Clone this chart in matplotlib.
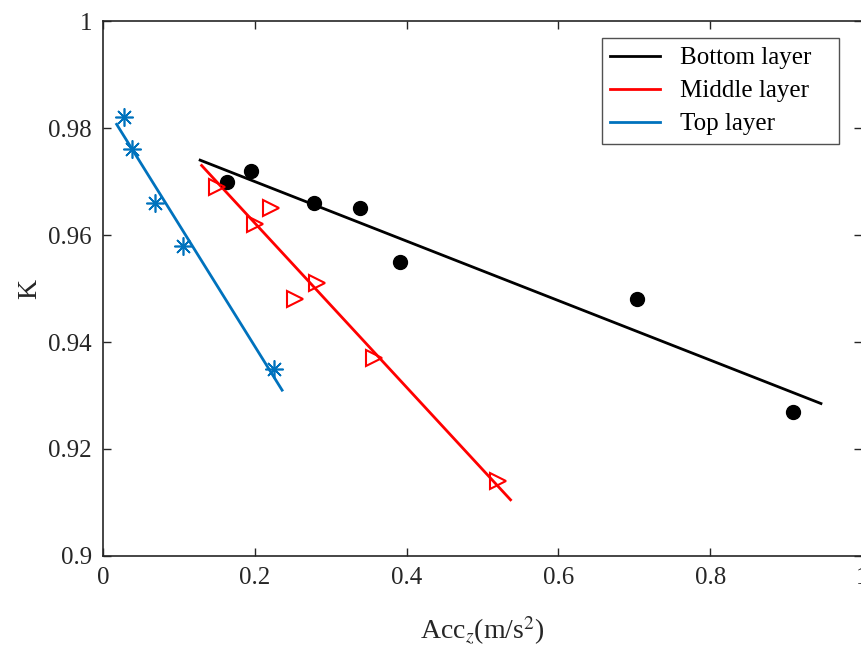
import matplotlib
matplotlib.use("Agg")
import matplotlib.pyplot as plt

plt.rcParams['font.family'] = ['Liberation Serif', 'DejaVu Serif']
plt.rcParams['mathtext.fontset'] = 'stix'

# Top layer (blue stars)
top_x = [0.028, 0.038, 0.068, 0.105, 0.225]
top_k = [0.982, 0.976, 0.966, 0.958, 0.935]
top_fit_x = [0.018, 0.236]
top_fit_k = [0.9807, 0.931]

# Middle layer (red triangles)
mid_x = [0.150, 0.200, 0.222, 0.253, 0.282, 0.357, 0.520]
mid_k = [0.969, 0.962, 0.965, 0.948, 0.951, 0.937, 0.914]
mid_fit_x = [0.130, 0.537]
mid_fit_k = [0.973, 0.9105]

# Bottom layer (black dots)
bot_x = [0.163, 0.195, 0.278, 0.339, 0.391, 0.703, 0.909]
bot_k = [0.970, 0.972, 0.966, 0.965, 0.955, 0.948, 0.927]
bot_fit_x = [0.128, 0.946]
bot_fit_k = [0.974, 0.9285]

blue = '#0072BD'
red = '#FF0000'
axcol = '#262626'

fig = plt.figure(figsize=(8.61, 6.48), dpi=100)
ax = fig.add_axes([0.1196, 0.142, 0.8815, 0.8255])

ax.plot(bot_fit_x, bot_fit_k, color='black', lw=2, label='Bottom layer   ')
ax.plot(mid_fit_x, mid_fit_k, color=red, lw=2, label='Middle layer   ')
ax.plot(top_fit_x, top_fit_k, color=blue, lw=2, label='Top layer   ')

ax.plot(bot_x, bot_k, 'o', color='black', ms=10, ls='none')
ax.plot(mid_x, mid_k, '>', mfc='none', mec=red, mew=1.5, ms=11, ls='none')
ax.plot(top_x, top_k, marker=(8, 2, 0), color=blue, mew=1.2, ms=13, ls='none')

ax.set_xlim(0, 1)
ax.set_ylim(0.9, 1)
ax.set_xticks([0, 0.2, 0.4, 0.6, 0.8, 1])
ax.set_xticklabels(['0', '0.2', '0.4', '0.6', '0.8', '1'])
ax.set_yticks([0.9, 0.92, 0.94, 0.96, 0.98, 1])
ax.set_yticklabels(['0.9', '0.92', '0.94', '0.96', '0.98', '1'])
ax.tick_params(direction='in', top=True, right=True, length=6, width=1,
               labelsize=18, colors=axcol, pad=8)
for s in ax.spines.values():
    s.set_color(axcol)
    s.set_linewidth(1.2)

ax.set_xlabel(r'Acc$_z$(m/s$^2$)', fontsize=20, color=axcol, labelpad=18)
ax.set_ylabel('K', fontsize=20, color=axcol, labelpad=4)

leg = ax.legend(loc='upper right', bbox_to_anchor=(0.970, 0.968), fontsize=18,
                frameon=True, fancybox=False, edgecolor=axcol, handlelength=2.0,
                borderpad=0.35, borderaxespad=0, labelspacing=0.42,
                handletextpad=0.8)
leg.get_frame().set_linewidth(1.0)

fig.savefig('out.png', dpi=100)
